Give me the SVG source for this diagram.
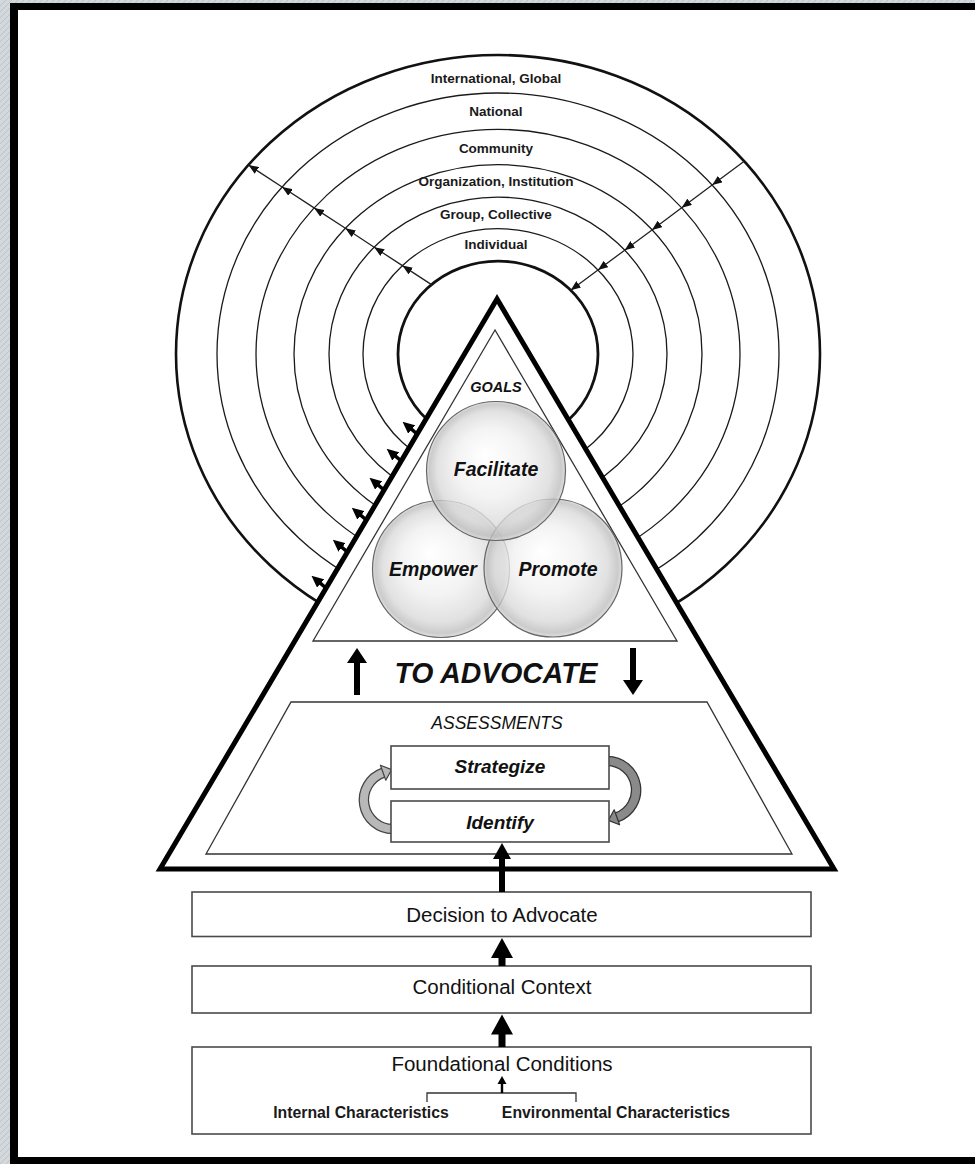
<svg xmlns="http://www.w3.org/2000/svg" width="975" height="1164" viewBox="0 0 975 1164">
<defs>
  <pattern id="tex" width="6" height="6" patternUnits="userSpaceOnUse">
    <rect width="6" height="6" fill="#d3d8dc"/>
    <path d="M0,6 L6,0" stroke="#bcc3c9" stroke-width="1"/>
  </pattern>
  <radialGradient id="bub" cx="0.5" cy="0.5" r="0.5" fx="0.42" fy="0.38">
    <stop offset="0" stop-color="#ffffff"/>
    <stop offset="0.5" stop-color="#f0f0f0"/>
    <stop offset="0.82" stop-color="#d9d9d9"/>
    <stop offset="0.95" stop-color="#bdbdbd"/>
    <stop offset="1" stop-color="#d6d6d6"/>
  </radialGradient>
  <marker id="ah" markerUnits="userSpaceOnUse" markerWidth="10" markerHeight="8" refX="10" refY="4" orient="auto">
    <path d="M0,0 L10,4 L0,8 z" fill="#111"/>
  </marker>
  <marker id="ahT" markerUnits="userSpaceOnUse" markerWidth="12" markerHeight="11" refX="5" refY="5.5" orient="auto">
    <path d="M0,0 L12,5.5 L0,11 z" fill="#000"/>
  </marker>
</defs>
<style>
  .ring{fill:none;stroke:#1a1a1a;stroke-width:1.3}
  .ringB{fill:none;stroke:#111;stroke-width:2.8}
  .lbl{font-family:"Liberation Sans",Arial,sans-serif;font-weight:bold;font-size:13.5px;fill:#1a1a1a;text-anchor:middle}
  .bi{font-family:"Liberation Sans",Arial,sans-serif;font-weight:bold;font-style:italic;fill:#111;text-anchor:middle}
  .reg{font-family:"Liberation Sans",Arial,sans-serif;font-size:20.5px;fill:#111;text-anchor:middle}
  .chr{font-family:"Liberation Sans",Arial,sans-serif;font-weight:bold;font-size:15.8px;fill:#1a1a1a;text-anchor:middle}
  .thin{fill:#fff;stroke:#333;stroke-width:1.3}
  .box{fill:#fff;stroke:#4a4a4a;stroke-width:1.6}
  .bubble{fill:url(#bub);fill-opacity:0.78;stroke:#666;stroke-width:1.2}
  .rl{fill:none;stroke:#222;stroke-width:1.3;marker-mid:url(#ah);marker-end:url(#ah)}
  .ta{stroke:#000;stroke-width:3.5;marker-end:url(#ahT)}
  .blk{fill:#000}
</style>

<rect width="975" height="1164" fill="url(#tex)"/>
<rect x="10" y="3" width="970" height="1165" fill="#000"/>
<rect x="18" y="10" width="962" height="1147" fill="#fff"/>

<g id="rings">
  <ellipse class="ringB" cx="498" cy="354" rx="322" ry="299" style="stroke-width:2.6"/>
  <ellipse class="ring" cx="498" cy="354" rx="281" ry="261"/>
  <ellipse class="ring" cx="498" cy="354" rx="242" ry="224.7"/>
  <ellipse class="ring" cx="498" cy="354" rx="204" ry="189.4"/>
  <ellipse class="ring" cx="498" cy="354" rx="169" ry="156.9"/>
  <ellipse class="ring" cx="498" cy="354" rx="135" ry="125.3"/>
  <ellipse class="ringB" cx="498" cy="354" rx="100" ry="92.9"/>
  <text class="lbl" x="496" y="82.5">International, Global</text>
  <text class="lbl" x="496" y="115.5">National</text>
  <text class="lbl" x="496" y="152.5">Community</text>
  <text class="lbl" x="496" y="185.5">Organization, Institution</text>
  <text class="lbl" x="496" y="218.5">Group, Collective</text>
  <text class="lbl" x="496" y="248.5">Individual</text>
</g>

<g id="advocate-triangle">
  <polygon points="497,299 160,869 834,869" fill="#fff" stroke="#000" stroke-width="5" stroke-linejoin="miter" stroke-miterlimit="10"/>
  <text class="bi" x="496" y="683" font-size="30" textLength="203" lengthAdjust="spacingAndGlyphs">TO ADVOCATE</text>
</g>

<g id="goals">
  <polygon class="thin" points="495,330 313,641 677,641"/>
  <text class="bi" x="496" y="391.5" font-size="14.5">GOALS</text>
</g>

<g id="empower">
  <circle class="bubble" cx="441" cy="569" r="68.5"/>
</g>
<g id="promote">
  <circle class="bubble" cx="553" cy="568" r="69"/>
</g>
<g id="facilitate">
  <circle class="bubble" cx="496" cy="471" r="69.5"/>
</g>
<g id="bubble-labels">
  <text class="bi" x="496" y="476" font-size="19.5">Facilitate</text>
  <text class="bi" x="433" y="576" font-size="19.5">Empower</text>
  <text class="bi" x="558" y="576" font-size="19.5">Promote</text>
</g>

<g id="assessments">
  <polygon class="thin" points="291,702 707,702 792,854 206,854"/>
  <text x="497" y="729" font-family="'Liberation Sans', Arial, sans-serif" font-style="italic" font-size="17.5" fill="#111" text-anchor="middle">ASSESSMENTS</text>
</g>

<g id="cycle-arrows">
  <path d="M393,829 A29,29 0 0 1 383.1,772.7" fill="none" stroke="#444" stroke-width="10.5"/>
  <path d="M393,829 A29,29 0 0 1 383.1,772.7" fill="none" stroke="#b8b8b8" stroke-width="8"/>
  <polygon points="391.6,769.6 385.8,780.2 380.4,765.2" fill="#b8b8b8" stroke="#444" stroke-width="1.2" stroke-linejoin="round"/>
  <path d="M607,761 A29,29 0 0 1 616.9,817.3" fill="none" stroke="#333" stroke-width="10.5"/>
  <path d="M607,761 A29,29 0 0 1 616.9,817.3" fill="none" stroke="#8a8a8a" stroke-width="8"/>
  <polygon points="608.4,820.4 619.6,824.8 614.2,809.8" fill="#8a8a8a" stroke="#333" stroke-width="1.2" stroke-linejoin="round"/>
</g>

<g id="strategize">
  <rect class="box" x="391" y="746" width="218" height="43"/>
  <text class="bi" x="500" y="773" font-size="19">Strategize</text>
</g>
<g id="identify">
  <rect class="box" x="391" y="801" width="218" height="41"/>
  <text class="bi" x="500" y="829" font-size="19">Identify</text>
</g>

<g id="decision">
  <rect class="box" x="192" y="892" width="619" height="44.5"/>
  <text class="reg" x="502" y="921.5">Decision to Advocate</text>
</g>
<g id="conditional">
  <rect class="box" x="192" y="966" width="619" height="47"/>
  <text class="reg" x="502" y="994">Conditional Context</text>
</g>
<g id="foundational">
  <rect class="box" x="192" y="1047" width="619" height="87"/>
  <text class="reg" x="502" y="1071">Foundational Conditions</text>
  <text class="chr" x="361" y="1118">Internal Characteristics</text>
  <text class="chr" x="616" y="1118">Environmental Characteristics</text>
</g>

<g id="connectors">
  <polyline class="rl" points="431.5,284.6 402.4,265.6 374.2,247.2 345.4,228.3 314.1,207.9 282.1,187 248.5,165"/>
  <polyline class="rl" points="744.2,161.3 712.2,185.1 681.7,207.8 652,229.9 624.7,250.2 598,270 570.7,290.3"/>
  <line class="ta" x1="417.1" y1="434" x2="407.9" y2="426.2"/>
  <line class="ta" x1="401.2" y1="461" x2="392" y2="453.2"/>
  <line class="ta" x1="384" y1="490" x2="374.8" y2="482.2"/>
  <line class="ta" x1="366.3" y1="520" x2="357.1" y2="512.2"/>
  <line class="ta" x1="347.4" y1="552" x2="338.2" y2="544.2"/>
  <line class="ta" x1="326" y1="588" x2="316.8" y2="580.2"/>
  <path class="blk" d="M357,648 L367,663 L360,663 L360,695 L354,695 L354,663 L347,663 Z"/>
  <path class="blk" d="M633,695 L643,680 L636,680 L636,648 L630,648 L630,680 L623,680 Z"/>
  <path class="blk" d="M502,843 L511,859 L505,859 L505,892 L499,892 L499,859 L493,859 Z"/>
  <path class="blk" d="M502,938 L513,958 L505.5,958 L505.5,966 L498.5,966 L498.5,958 L491,958 Z"/>
  <path class="blk" d="M502,1014.5 L513,1034.5 L505.5,1034.5 L505.5,1047 L498.5,1047 L498.5,1034.5 L491,1034.5 Z"/>
  <path d="M427,1102 L427,1093 L576,1093 L576,1102" fill="none" stroke="#333" stroke-width="1.3"/>
  <path class="blk" d="M502,1076 L506.5,1084 L503.2,1084 L503.2,1093 L500.8,1093 L500.8,1084 L497.5,1084 Z"/>
</g>
</svg>
